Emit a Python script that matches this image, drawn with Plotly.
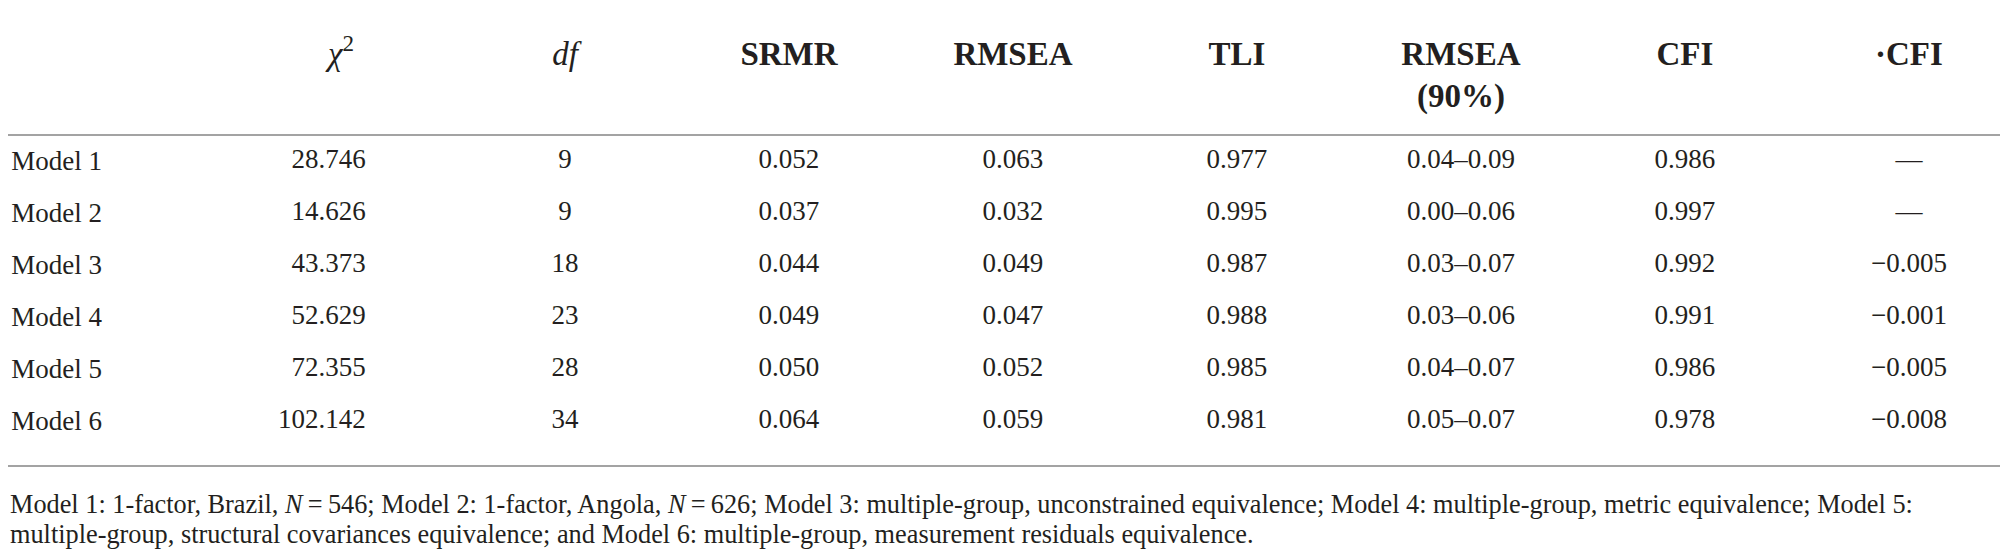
import plotly.graph_objects as go

# table content
models = ["Model 1", "Model 2", "Model 3", "Model 4", "Model 5", "Model 6"]
headers = ["<i>χ</i><sup>2</sup>", "<i>df</i>", "<b>SRMR</b>", "<b>RMSEA</b>", "<b>TLI</b>",
           "<b>RMSEA</b><br><b>(90%)</b>", "<b>CFI</b>", "<b>·CFI</b>"]
chi2 = [28.746, 14.626, 43.373, 52.629, 72.355, 102.142]
df = [9, 9, 18, 23, 28, 34]
srmr = [0.052, 0.037, 0.044, 0.049, 0.050, 0.064]
rmsea = [0.063, 0.032, 0.049, 0.047, 0.052, 0.059]
tli = [0.977, 0.995, 0.987, 0.988, 0.985, 0.981]
rmsea_lo = [0.04, 0.00, 0.03, 0.03, 0.04, 0.05]
rmsea_hi = [0.09, 0.06, 0.07, 0.06, 0.07, 0.07]
cfi = [0.986, 0.997, 0.992, 0.991, 0.986, 0.978]
delta_cfi = [None, None, -0.005, -0.001, -0.005, -0.008]
footnote = [
    "Model 1: 1-factor, Brazil, <i>N</i>\u2009=\u2009546; Model 2: 1-factor, Angola, <i>N</i>\u2009=\u2009626; "
    "Model 3: multiple-group, unconstrained equivalence; Model 4: multiple-group, metric equivalence; Model 5:",
    "multiple-group, structural covariances equivalence; and Model 6: multiple-group, measurement residuals equivalence.",
]

FONT = "Liberation Serif"
INK = "#231f20"
RULE = "#a3a3a3"
BODY = 27
HEAD = 33
NOTE = 26.3
HEADER_Y = -2.33
CHI_SHIFT = 0.11
NOTE_Y = [6.615, 7.19]


def fmt(v, d=3):
    if v is None:
        return "\u2014"
    return f"{v:.{d}f}".replace("-", "\u2212")


columns = [
    [fmt(v) for v in chi2],
    [str(v) for v in df],
    [fmt(v) for v in srmr],
    [fmt(v) for v in rmsea],
    [fmt(v) for v in tli],
    [f"{fmt(a, 2)}\u2013{fmt(b, 2)}" for a, b in zip(rmsea_lo, rmsea_hi)],
    [fmt(v) for v in cfi],
    [fmt(v) for v in delta_cfi],
]
rows = list(range(len(models)))

fig = go.Figure()

for j, col in enumerate(columns, start=1):
    if j == 1:
        # chi-square values are right aligned
        fig.add_trace(go.Scatter(
            x=[j + CHI_SHIFT] * len(col), y=rows, text=col, mode="text",
            textposition="middle left",
            textfont=dict(family=FONT, size=BODY, color=INK),
            hoverinfo="skip", showlegend=False))
    else:
        fig.add_trace(go.Scatter(
            x=[j] * len(col), y=rows, text=col, mode="text",
            textposition="middle center",
            textfont=dict(family=FONT, size=BODY, color=INK),
            hoverinfo="skip", showlegend=False))

# header row
fig.add_trace(go.Scatter(
    x=list(range(1, len(headers) + 1)), y=[HEADER_Y] * len(headers),
    text=headers, mode="text", textposition="bottom center",
    textfont=dict(family=FONT, size=HEAD, color=INK),
    hoverinfo="skip", showlegend=False))

left = -95 / 1913
fig.add_shape(type="line", xref="paper", yref="y", x0=left, x1=1, y0=-0.5, y1=-0.5,
              line=dict(color=RULE, width=2))
fig.add_shape(type="line", xref="paper", yref="y", x0=left, x1=1, y0=5.865, y1=5.865,
              line=dict(color=RULE, width=2))

for line, yv in zip(footnote, NOTE_Y):
    fig.add_annotation(text=line, xref="paper", yref="y", x=left, y=yv,
                       xanchor="left", yanchor="middle", align="left", showarrow=False,
                       font=dict(family=FONT, size=NOTE, color=INK))

fig.update_layout(
    width=2008, height=553,
    margin=dict(l=95, r=0, t=0, b=0),
    paper_bgcolor="white", plot_bgcolor="white",
    hovermode=False,
    xaxis=dict(range=[-0.0625, 8.478], visible=False, fixedrange=True),
    yaxis=dict(range=[7.692, -2.942], tickvals=rows, ticktext=models,
               showgrid=False, zeroline=False, showline=False, ticks="",
               automargin=False, fixedrange=True,
               tickfont=dict(family=FONT, size=BODY, color=INK)),
)

fig.write_html("out.html", config={"displayModeBar": False})
